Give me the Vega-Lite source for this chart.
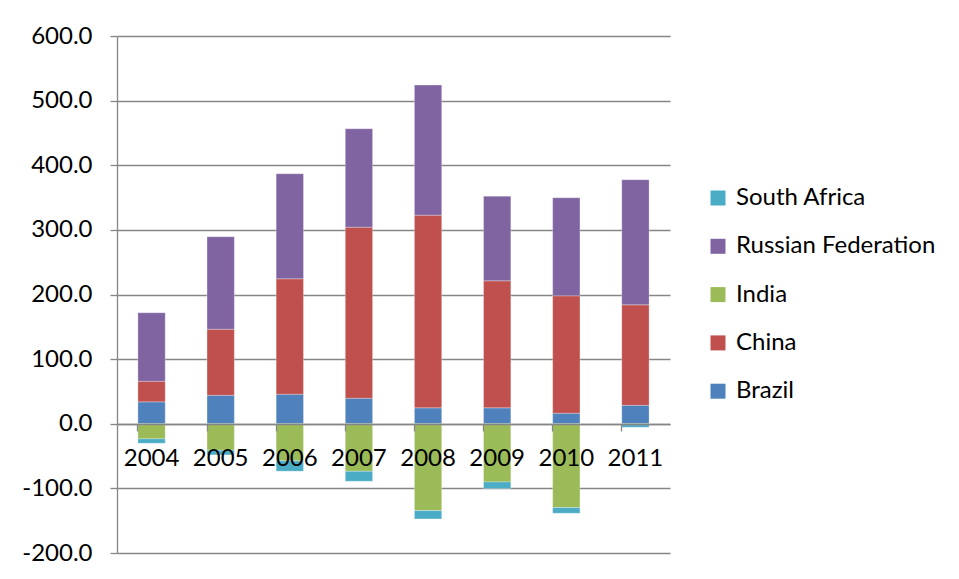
{
  "$schema": "https://vega.github.io/schema/vega-lite/v6.json",
  "autosize": "none",
  "padding": {"left": 117, "top": 36, "right": 289, "bottom": 26},
  "width": 553,
  "height": 517,
  "background": "white",
  "config": {
    "view": {"stroke": null},
    "font": "Lato",
    "axis": {
      "labelFont": "Lato",
      "labelFontSize": 24,
      "labelColor": "#000000",
      "gridColor": "#868686",
      "gridWidth": 1.3,
      "domainColor": "#868686",
      "domainWidth": 1.3,
      "tickColor": "#868686",
      "tickWidth": 1.3,
      "tickSize": 7,
      "title": null
    },
    "legend": {
      "labelFont": "Lato",
      "labelFontSize": 24,
      "labelColor": "#000000",
      "symbolType": "square",
      "symbolSize": 225,
      "symbolStrokeWidth": 0,
      "rowPadding": 24.3,
      "labelOffset": 6,
      "labelLimit": 400,
      "padding": 0
    }
  },
  "data": {
    "values": [
      {"year": "2004", "country": "Brazil", "value": 33.9},
      {"year": "2004", "country": "China", "value": 31.9},
      {"year": "2004", "country": "India", "value": -23.4},
      {"year": "2004", "country": "Russian Federation", "value": 106.0},
      {"year": "2004", "country": "South Africa", "value": -6.8},
      {"year": "2005", "country": "Brazil", "value": 44.1},
      {"year": "2005", "country": "China", "value": 102.2},
      {"year": "2005", "country": "India", "value": -41.0},
      {"year": "2005", "country": "Russian Federation", "value": 143.0},
      {"year": "2005", "country": "South Africa", "value": -7.2},
      {"year": "2006", "country": "Brazil", "value": 45.7},
      {"year": "2006", "country": "China", "value": 178.6},
      {"year": "2006", "country": "India", "value": -57.4},
      {"year": "2006", "country": "Russian Federation", "value": 162.5},
      {"year": "2006", "country": "South Africa", "value": -16.0},
      {"year": "2007", "country": "Brazil", "value": 39.5},
      {"year": "2007", "country": "China", "value": 264.7},
      {"year": "2007", "country": "India", "value": -73.5},
      {"year": "2007", "country": "Russian Federation", "value": 152.3},
      {"year": "2007", "country": "South Africa", "value": -15.5},
      {"year": "2008", "country": "Brazil", "value": 24.6},
      {"year": "2008", "country": "China", "value": 298.2},
      {"year": "2008", "country": "India", "value": -134.4},
      {"year": "2008", "country": "Russian Federation", "value": 201.2},
      {"year": "2008", "country": "South Africa", "value": -12.9},
      {"year": "2009", "country": "Brazil", "value": 24.6},
      {"year": "2009", "country": "China", "value": 196.6},
      {"year": "2009", "country": "India", "value": -90.0},
      {"year": "2009", "country": "Russian Federation", "value": 131.0},
      {"year": "2009", "country": "South Africa", "value": -10.3},
      {"year": "2010", "country": "Brazil", "value": 16.3},
      {"year": "2010", "country": "China", "value": 181.7},
      {"year": "2010", "country": "India", "value": -129.7},
      {"year": "2010", "country": "Russian Federation", "value": 151.7},
      {"year": "2010", "country": "South Africa", "value": -8.8},
      {"year": "2011", "country": "Brazil", "value": 28.6},
      {"year": "2011", "country": "China", "value": 155.4},
      {"year": "2011", "country": "India", "value": -1.0},
      {"year": "2011", "country": "Russian Federation", "value": 193.6},
      {"year": "2011", "country": "South Africa", "value": -4.5}
    ]
  },
  "mark": {"type": "bar", "stroke": "#ffffff", "strokeOpacity": 0.35, "strokeWidth": 0.8},
  "encoding": {
    "x": {
      "field": "year",
      "type": "nominal",
      "scale": {"paddingInner": 0.605, "paddingOuter": 0.3025},
      "axis": {
        "labelAngle": 0,
        "offset": -129,
        "bandPosition": 0,
        "labelPadding": 15,
        "grid": false,
        "zindex": 1
      }
    },
    "y": {
      "field": "value",
      "type": "quantitative",
      "stack": "zero",
      "scale": {"domain": [-200, 600], "nice": false, "zero": false},
      "axis": {
        "values": [-200, -100, 0, 100, 200, 300, 400, 500, 600],
        "format": ".1f",
        "labelExpr": "replace(datum.label, '\u2212', '-')",
        "grid": true,
        "labelPadding": 18
      }
    },
    "color": {
      "field": "country",
      "type": "nominal",
      "scale": {
        "domain": ["South Africa", "Russian Federation", "India", "China", "Brazil"],
        "range": ["#4BACC6", "#8064A2", "#9BBB59", "#C0504D", "#4F81BD"]
      },
      "legend": {
        "title": null,
        "orient": "none",
        "legendX": 589,
        "legendY": 150
      }
    },
    "order": {"field": "country", "sort": "ascending"}
  }
}
